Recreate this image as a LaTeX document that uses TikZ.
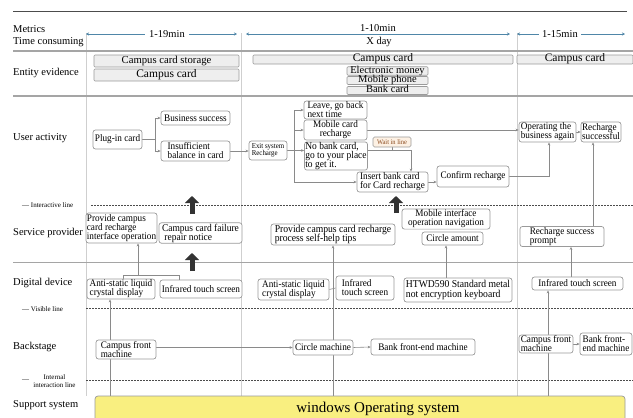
\documentclass[tikz,border=0pt]{standalone}
\usepackage{fontspec}
\setmainfont{Liberation Serif}
\newfontfamily\condf{Liberation Serif}[FakeStretch=0.92]
\usetikzlibrary{arrows.meta}
\pgfdeclarelayer{bg}
\pgfsetlayers{bg,main}
\definecolor{boxgray}{HTML}{9A9A9A}
\definecolor{entgray}{HTML}{EEEEEE}
\definecolor{conngray}{HTML}{8A8A8A}
\definecolor{sepgray}{HTML}{CFCFCF}
\definecolor{hgray}{HTML}{A5A5A5}
\definecolor{tlblue}{HTML}{4F86A8}
\definecolor{waitfill}{HTML}{FDF1E4}
\definecolor{waittext}{HTML}{8B4A1E}
\definecolor{osyellow}{HTML}{F9EF80}
\definecolor{darkarr}{HTML}{333333}
\tikzset{
  wh/.style 2 args={minimum width=#1, minimum height=#2},
  fs/.style 2 args={font=\condf\fontsize{#1}{#2}\selectfont},
  bx/.style={draw=boxgray, line width=0.7pt, rounded corners=2.5pt, fill=white,
    inner sep=1pt, align=left, fs={10}{9}},
  ebx/.style={draw=boxgray, line width=0.6pt, fill=entgray, rounded corners=1pt,
    inner xsep=1pt, inner ysep=0pt, text height=6.5pt, text depth=2pt},
  conn/.style={draw=conngray, line width=0.6pt},
  arr/.style={conn, -{Stealth[length=3pt,width=2.6pt]}},
  rowlab/.style={anchor=west, inner sep=0pt, font=\fontsize{10.5}{12}\selectfont},
  smlab/.style={anchor=west, inner sep=0pt, font=\fontsize{7}{7.5}\selectfont},
  tl/.style={draw=tlblue, line width=0.9pt,
    {Stealth[length=3pt,width=3pt]}-{Stealth[length=3pt,width=3pt]}},
  tllab/.style={inner sep=1pt, font=\fontsize{10.5}{12}\selectfont},
  sep/.style={draw=sepgray, line width=0.6pt},
  hline/.style={draw=hgray, line width=1pt},
  dline/.style={draw=black!70, line width=0.8pt, dash pattern=on 1.6pt off 1.4pt},
  bigarr/.style={draw=darkarr, line width=5pt, -{Triangle[width=14pt,length=7pt]}}
}
\begin{document}
\lineskiplimit=-20pt
\lineskip=0pt
\begin{tikzpicture}[x=1pt,y=-1pt]
\useasboundingbox (0,0) rectangle (633,418);

% row labels
\node[rowlab] (lmet) at (13,29) {Metrics};
\node[rowlab] (ltime) at (13,42) {Time consuming};
\node[rowlab] (lent) at (13,73) {Entity evidence};
\node[rowlab] (luser) at (13,138) {User activity};
\node[rowlab] (lserv) at (13,233) {Service provider};
\node[rowlab] (ldig) at (13,283) {Digital device};
\node[rowlab] (lback) at (13,347) {Backstage};
\node[rowlab] (lsup) at (13,405) {Support system};
\node[smlab] (lint) at (22,205) {— Interactive line};
\node[smlab] (lvis) at (22,309) {— Visible line};
\node[smlab] (lintd) at (22,381) {—};
\node[smlab, anchor=center, align=center] (lintt) at (54.5,381) {Internal\\interaction line};

% timeline
\coordinate (t1a) at (86,34); \coordinate (t1b) at (237,34);
\coordinate (t2a) at (246,34); \coordinate (t2b) at (510,34);
\coordinate (t3a) at (517,34); \coordinate (t3b) at (625,34);
\draw[tl] (t1a) -- (t1b);
\draw[tl] (t2a) -- (t2b);
\draw[tl] (t3a) -- (t3b);
\node[tllab, fill=white, inner xsep=4pt] (tl1) at (167,34) {1-19min};
\node[tllab] (tl2) at (378,28.5) {1-10min};
\node[tllab] (tl2b) at (379,42) {X day};
\node[tllab, fill=white, inner xsep=3pt] (tl3) at (560,34) {1-15min};

% entity evidence
\node[ebx, wh={145}{12}, font=\fontsize{10.7}{11}\selectfont] (es1) at (166.5,61) {Campus card storage};
\node[ebx, wh={145}{12}, font=\fontsize{11.5}{12}\selectfont] (es2) at (166.5,75) {Campus card};
\node[ebx, wh={260}{9}, font=\fontsize{11.5}{12}\selectfont] (em1) at (383,59.5) {Campus card};
\node[ebx, wh={81}{8.5}, text height=6pt, text depth=1.5pt, font=\fontsize{10.5}{11}\selectfont] (em2) at (387.5,71) {Electronic money};
\node[ebx, wh={81}{8}, text height=6pt, text depth=1.5pt, font=\fontsize{10.5}{11}\selectfont] (em3) at (387.5,80.5) {Mobile phone};
\node[ebx, wh={81}{8}, text height=6pt, text depth=1.5pt, font=\fontsize{10.5}{11}\selectfont] (em4) at (387.5,90.5) {Bank card};
\node[ebx, wh={116}{9}, font=\fontsize{11.5}{12}\selectfont] (er1) at (575,59.5) {Campus card};

% user activity
\node[bx, wh={49}{19}] (plug) at (117.5,139.5) {Plug-in card};
\node[bx, wh={69}{14}] (bsucc) at (195.5,118) {Business success};
\node[bx, wh={69}{20}] (insuf) at (195.5,151) {Insufficient\\balance in card};
\node[bx, wh={38}{19}, fs={7.5}{7}, inner sep=0.5pt] (exit) at (268,150.5) {Exit system\\Recharge};
\node[bx, wh={63}{16}] (leave) at (335.5,110) {Leave, go back\\next time};
\node[bx, wh={63}{18}, align=center] (mobile) at (335.5,130) {Mobile card\\recharge};
\node[bx, wh={63}{28}, fs={10.3}{8.9}, inner sep=0.5pt] (nobank) at (336,156) {No bank card,\\go to your place\\to get it.};
\node[bx, wh={38}{10}, fill=waitfill, text=waittext, fs={7}{7}, inner sep=0.5pt, rounded corners=1.5pt] (wait) at (392,142) {Wait in line};
\node[bx, wh={71}{20}] (insert) at (392.5,182) {Insert bank card\\for Card recharge};
\node[bx, wh={72}{21}] (confirm) at (473,176.5) {Confirm recharge};
\node[bx, wh={57}{20}] (operating) at (547.5,132) {Operating the\\business again};
\node[bx, wh={40}{20}, inner sep=0.5pt] (rsucc) at (601,132) {Recharge\\successful};

% service provider
\node[bx, wh={71}{30}, inner sep=0.5pt] (prov1) at (121.5,228) {Provide campus\\card recharge\\interface operation};
\node[bx, wh={83}{20}, fs={10.3}{9}] (fail) at (200.5,233) {Campus card failure\\\ repair notice};
\node[bx, wh={124}{21}, fs={10.5}{9.4}] (prov2) at (333,234.5) {Provide campus card recharge\\process self-help tips};
\node[bx, wh={88}{20}, align=center] (mobnav) at (446,219) {Mobile interface\\operation navigation};
\node[bx, wh={61}{13}] (circle) at (452.5,238.5) {Circle amount};
\node[bx, wh={84}{19}] (prompt) at (562,236.5) {Recharge success\\prompt};

% digital device
\node[bx, wh={68}{20}] (acl1) at (121,289) {Anti-static liquid\\crystal display};
\node[bx, wh={82}{18}] (irt1) at (201,289) {Infrared touch screen};
\node[bx, wh={71}{21}] (acl2) at (293.5,289.5) {Anti-static liquid\\crystal display};
\node[bx, wh={58}{24}] (irt2) at (365,288) {Infrared\\touch screen};
\node[bx, wh={108}{24}, fs={10.5}{9.4}] (htwd) at (458,290) {HTWD590 Standard metal\\not encryption keyboard};
\node[bx, wh={91}{13}] (irt3) at (577.5,283.5) {Infrared touch screen};

% backstage
\node[bx, wh={60}{19}] (cfm1) at (126,349.5) {Campus front\\machine};
\node[bx, wh={60}{15}] (circm) at (323,347.5) {Circle machine};
\node[bx, wh={104}{16}] (bfm1) at (423,347) {Bank front-end machine};
\node[bx, wh={54}{18}] (cfm2) at (546,344) {Campus front\\machine};
\node[bx, wh={52}{22}] (bfm2) at (606,344) {Bank front-\\end machine};

% support system
\node[draw=boxgray, line width=0.7pt, fill=osyellow, rounded corners=3pt, wh={530}{26},
  inner sep=0pt, font=\fontsize{15}{16}\selectfont] (winos) at (360,409)
  {\hspace*{36pt}windows Operating system};

% big arrows
\coordinate (ba1s) at (192,214); \coordinate (ba1e) at (192,196);
\coordinate (ba2s) at (396,213); \coordinate (ba2e) at (396,196);
\coordinate (ba3s) at (192,271); \coordinate (ba3e) at (192,253);
\draw[bigarr] (ba1s) -- (ba1e);
\draw[bigarr] (ba2s) -- (ba2e);
\draw[bigarr] (ba3s) -- (ba3e);

\begin{pgfonlayer}{bg}
\draw[sep] (86,33) -- (86,396);
\draw[sep] (241,33) -- (241,396);
\draw[sep] (517,33) -- (517,396);
\draw[draw=black!70, line width=0.8pt] (13,11) -- (627,11);
\draw[hline, line width=1.5pt] (13,51) -- (633,51);
\draw[hline, line width=2pt] (13,96) -- (633,96);
\draw[hline] (13,262) -- (633,262);
\draw[dline] (91,205) -- (633,205);
\draw[dline] (86,308) -- (633,308);
\draw[dline] (86,380) -- (633,380);

% user activity connectors
\coordinate (b1) at (155,139.5);
\draw[conn] (plug.east) -- (b1);
\draw[arr] (b1) |- (bsucc.west);
\draw[arr] (b1) |- (insuf.west);
\draw[arr] (insuf.east) -- (insuf.east -| exit.west);
\coordinate (b2) at (294,150.5);
\draw[conn] (exit.east) -- (b2);
\draw[arr] (b2) |- (leave.west);
\draw[arr] (b2) |- (mobile.west);
\draw[arr] (b2) -- (b2 -| nobank.west);
\draw[arr] (b2) |- (insert.west);
\coordinate (c3) at (411,150.5);
\draw[arr] (nobank.east |- c3) -| (insert.north -| c3);
\draw[conn] (wait.south) -- (wait.south |- c3);
\draw[arr] (mobile.east) -- (mobile.east -| operating.west);
\draw[arr] (insert.east) -- (insert.east -| confirm.west);
\coordinate (c4) at (549,176.5);
\draw[arr] (confirm.east) -| (operating.south -| c4);
\draw[arr] (operating.east) -- (rsucc.west);
\coordinate (c5) at (593,200);
\draw[arr] (prompt.north -| c5) -- (rsucc.south -| c5);

% service / device connectors
\coordinate (c6) at (571,260);
\draw[arr] (irt3.north -| c6) -- (prompt.south -| c6);
\coordinate (j1) at (138,275);
\coordinate (j1l) at (123,275);
\coordinate (j1r) at (179,275);
\draw[arr] (j1) -- (prov1.south -| j1);
\draw[conn] (j1l) -- (j1r);
\draw[conn] (j1l) -- (acl1.north -| j1l);
\draw[conn] (j1r) -- (irt1.north -| j1r);
\coordinate (v1) at (110,396);
\draw[arr] (winos.north -| v1) -- (acl1.south -| v1);
\coordinate (v2) at (333,396);
\draw[arr] (v2) -- (prov2.south -| v2);
\coordinate (v3) at (548,396);
\draw[arr] (winos.north -| v3) -- (irt3.south -| v3);
\coordinate (v4) at (446,260);
\draw[arr] (htwd.north -| v4) -- (circle.south -| v4);
\draw[conn] (acl2.east) -- (irt2.west);

% backstage connectors
\draw[arr] (cfm1.east |- circm.west) -- (circm.west);
\draw[arr] (circm.east) -- (bfm1.west);
\draw[arr] (cfm2.east) -- (bfm2.west);
\end{pgfonlayer}
\end{tikzpicture}
\end{document}
